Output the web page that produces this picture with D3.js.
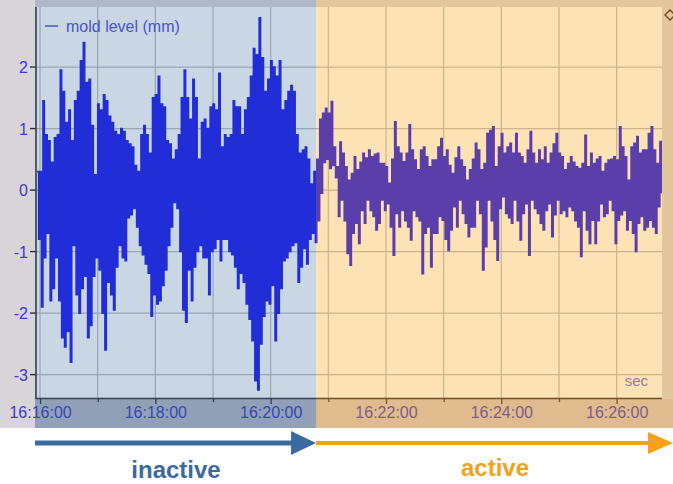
<!DOCTYPE html>
<html>
<head>
<meta charset="utf-8">
<script src="https://cdn.jsdelivr.net/npm/d3@7"></script>
<style>
  body { margin: 0; background: #fff; }
  svg text { font-family: "Liberation Sans", Arial, sans-serif; }
</style>
</head>
<body>
<div id="chart"></div>
<script>
// mold level (mm): one upper and one lower excursion every 3 s
const sampleStart = -3;   // seconds relative to 16:16:00
const sampleStep = 3;

const upper = [
  0.3, 0.3, 1.45, 0.9, 0.8, 0.45, 0.85, 0.9, 1.95, 1.6,
  1.1, 1.3, 0.8, 1.45, 1.6, 2.1, 2.4, 1.75, 1.8, 1.05,
  0.25, 1.4, 1.3, 1.55, 1.45, 1.2, 1.1, 0.95, 0.9, 1.0,
  0.95, 0.8, 0.75, 0.7, 0.4, 0.3, 0.9, 1.05, 0.9, 0.6,
  1.5, 1.55, 1.85, 1.4, 1.35, 0.8, 0.75, 0.5, 0.65, 0.9,
  1.5, 1.95, 1.5, 1.15, 1.8, 1.5, 0.5, 1.1, 1.15, 1.0,
  1.35, 1.4, 1.3, 1.9, 0.7, 0.9, 0.85, 0.9, 1.45, 1.35,
  1.35, 0.9, 1.3, 1.5, 1.85, 2.3, 2.2, 2.8, 2.15, 1.6,
  1.8, 2.1, 2.0, 1.85, 2.1, 1.3, 1.45, 1.6, 1.7, 1.6,
  0.9, 0.6, 0.65, 0.7, 0.5, 0.1, 0.3,
  0.5, 1.15, 1.25, 1.33, 1.25, 1.44, 0.7, 0.38, 0.78, 0.6,
  0.38, 0.16, 0.27, 0.54, 0.33, 0.45, 0.6, 0.52, 0.65, 0.54,
  0.58, 0.6, 0.43, 0.43, 0.38, 0.11, 0.5, 1.11, 0.7, 0.6,
  0.46, 0.6, 1.06, 0.65, 0.49, 0.33, 0.65, 0.7, 0.54, 0.38,
  0.49, 0.49, 0.7, 0.84, 0.54, 0.65, 0.4, 0.27, 0.52, 0.7,
  0.49, 0.38, 0.16, 0.33, 0.5, 0.76, 0.65, 0.33, 0.43, 0.92,
  0.97, 1.03, 0.38, 0.7, 0.92, 0.6, 0.7, 0.76, 0.6, 0.92,
  0.6, 0.54, 0.43, 0.65, 0.95, 0.6, 0.43, 0.65, 0.49, 0.7,
  0.43, 0.6, 0.75, 0.92, 0.6, 0.54, 0.33, 0.43, 0.54, 0.45,
  0.38, 0.35, 0.43, 0.89, 0.38, 0.6, 0.43, 0.5, 0.54, 0.3,
  0.43, 0.49, 0.5, 0.54, 0.49, 1.03, 0.7, 0.54, 0.16, 0.7,
  0.76, 0.87, 0.6, 0.65, 0.65, 0.92, 1.03, 0.65, 0.43, 0.79
];

const lower = [
  -0.8, -1.9, -1.1, -0.7, -1.8, -1.6, -1.1, -1.8, -2.4, -2.55,
  -2.3, -2.8, -0.9, -1.7, -2.0, -1.6, -1.4, -2.4, -2.2, -1.4,
  -1.1, -1.3, -2.0, -2.6, -1.5, -1.7, -1.95, -1.25, -0.9, -1.1,
  -1.15, -0.45, -0.4, -0.3, -0.6, -0.9, -1.05, -1.2, -1.35, -2.05,
  -1.7, -1.85, -1.8, -1.55, -1.3, -0.9, -0.6, -0.2, -0.3, -1.0,
  -1.95, -2.15, -1.3, -1.8, -1.25, -1.0, -0.9, -1.1, -1.1, -1.7,
  -1.0, -0.95, -0.8, -1.15, -0.8, -0.8, -1.0, -1.05, -1.25, -1.6,
  -1.35, -1.5, -1.85, -2.1, -2.45, -3.1, -3.25, -2.5, -2.05, -1.8,
  -1.85, -1.55, -2.45, -2.0, -1.6, -1.15, -1.1, -1.0, -0.9, -0.85,
  -1.5, -1.25, -0.95, -1.2, -0.8, -0.7, -0.85,
  -0.5, -0.05, 0.45, 0.5, 0.35, 0.4, 0.2, -0.43, -0.16, -0.5,
  -1.03, -1.22, -0.7, -0.54, -0.87, -0.33, -0.54, -0.16, -0.33, -0.43,
  -0.65, -0.54, -0.16, -0.33, -0.22, -0.6, -1.06, -0.38, -0.6, -0.33,
  -0.5, -0.6, -0.81, -0.33, -0.43, -0.5, -1.36, -0.7, -0.6, -1.25,
  -0.7, -0.7, -0.43, -0.49, -0.8, -0.98, -0.65, -0.27, -0.6, -0.16,
  -0.38, -0.54, -0.76, -0.6, -0.6, -0.16, -0.38, -1.3, -0.92, -0.16,
  -0.5, -0.8, -1.14, -0.3, -0.11, -0.38, -0.45, -0.54, -0.16, -0.5,
  -0.81, -0.38, -0.22, -1.06, -0.16, -0.3, -0.38, -0.54, -0.65, -0.33,
  -0.22, -0.76, -0.4, -0.16, -0.38, -0.33, -0.43, -0.27, -0.33, -0.5,
  -0.6, -1.08, -0.33, -0.65, -0.87, -0.49, -0.87, -0.5, -0.22, -0.43,
  -0.38, -0.16, -0.33, -0.87, -0.49, -0.4, -0.33, -0.65, -0.49, -0.7,
  -1.0, -0.54, -0.43, -0.65, -0.6, -0.49, -0.6, -0.7, -0.27, -0.05
];

const yTicks = [-3, -2, -1, 0, 1, 2];
const xTickLabels = ['16:16:00', '16:18:00', '16:20:00', '16:22:00', '16:24:00', '16:26:00'];
const seriesName = 'mold level (mm)';
const xUnit = 'sec';
// time window (s from 16:16:00) and the switch between the two phases
const viewStart = -4.2, viewEnd = 647.2, switchAt = 287.2;
const phases = ['inactive', 'active'];

const width = 673;
const height = 484;
const plot = { left: 36, right: 662, top: 7, bottom: 398 };

const base = new Date(2020, 0, 1, 16, 16, 0);
const sec = s => new Date(base.getTime() + s * 1000);
const fmt = d3.timeFormat('%H:%M:%S');

const x = d3.scaleTime()
    .domain([sec(viewStart), sec(viewEnd)])
    .range([plot.left, plot.right]);
const y = d3.scaleLinear()
    .domain([-3.38, 2.976])
    .range([plot.bottom, plot.top]);

// interleave the upper/lower excursions into one trace
const series = [];
upper.forEach((u, i) => {
    const t = sampleStart + i * sampleStep;
    series.push({ t: sec(t), v: u });
    series.push({ t: sec(t + sampleStep / 2), v: lower[i] });
});

const svg = d3.select('#chart')
    .append('svg')
    .attr('width', width)
    .attr('height', height);

svg.append('rect').attr('width', width).attr('height', height).style('fill', '#fff');

// chart frame + plot background
svg.append('rect')
    .attr('x', 0).attr('y', 0).attr('width', width).attr('height', 428)
    .style('fill', '#d8d4d9');
svg.append('rect')
    .attr('x', plot.left).attr('y', plot.top)
    .attr('width', plot.right - plot.left).attr('height', plot.bottom - plot.top)
    .style('fill', '#fdfdfd');

// grid
const minutes = d3.timeMinute.range(sec(0), sec(viewEnd));
svg.append('g').selectAll('line')
    .data(minutes).enter().append('line')
    .attr('x1', d => x(d)).attr('x2', d => x(d))
    .attr('y1', plot.top).attr('y2', plot.bottom)
    .style('stroke', '#b9b9bd').style('stroke-width', 1.2);
svg.append('g').selectAll('line')
    .data(yTicks).enter().append('line')
    .attr('x1', plot.left).attr('x2', plot.right)
    .attr('y1', d => y(d)).attr('y2', d => y(d))
    .style('stroke', '#b9b9bd').style('stroke-width', 1.2);

// trace
svg.append('clipPath').attr('id', 'clip')
    .append('rect')
    .attr('x', plot.left).attr('y', plot.top)
    .attr('width', plot.right - plot.left).attr('height', plot.bottom - plot.top);

const line = d3.line()
    .curve(d3.curveStepAfter)
    .x(d => x(d.t))
    .y(d => y(d.v));

svg.append('path')
    .datum(series)
    .attr('clip-path', 'url(#clip)')
    .attr('d', line)
    .style('fill', 'none')
    .style('stroke', '#1414ec')
    .style('stroke-width', 1.55);

// legend
svg.append('line')
    .attr('x1', 45).attr('x2', 58).attr('y1', 26).attr('y2', 26)
    .style('stroke', '#4a4ad8').style('stroke-width', 1.5);
svg.append('text')
    .attr('x', 66).attr('y', 32)
    .style('font-size', '16px').style('fill', '#4a4ad8')
    .text(seriesName);

svg.append('text')
    .attr('x', 648).attr('y', 386)
    .attr('text-anchor', 'end')
    .style('font-size', '15px').style('fill', '#7464d8')
    .text(xUnit);

// y axis
svg.append('line')
    .attr('x1', plot.left).attr('x2', plot.left)
    .attr('y1', plot.top).attr('y2', plot.bottom + 1)
    .style('stroke', '#2e2e34').style('stroke-width', 1.6);
const yg = svg.append('g');
yg.selectAll('line')
    .data(yTicks).enter().append('line')
    .attr('x1', plot.left - 6).attr('x2', plot.left)
    .attr('y1', d => y(d)).attr('y2', d => y(d))
    .style('stroke', '#2e2e34').style('stroke-width', 1.4);
yg.selectAll('text')
    .data(yTicks).enter().append('text')
    .attr('x', 28).attr('y', d => y(d) + 6)
    .attr('text-anchor', 'end')
    .style('font-size', '16px').style('fill', '#3a3ad4')
    .text(d => d);

// x axis
const xAxis = d3.axisBottom(x)
    .tickValues(minutes)
    .tickSize(5)
    .tickFormat(d => xTickLabels.includes(fmt(d)) ? fmt(d) : '');
const xg = svg.append('g')
    .attr('transform', `translate(0,${plot.bottom})`)
    .call(xAxis);
xg.select('.domain')
    .attr('d', `M${plot.left},0.5H${plot.right}`)
    .style('stroke', '#2e2e34').style('stroke-width', 1.6);
xg.selectAll('.tick line')
    .style('stroke', '#2e2e34').style('stroke-width', 1.3)
    .attr('y2', d => xTickLabels.includes(fmt(d)) ? 6 : 4);
xg.selectAll('.tick text')
    .attr('y', 9)
    .style('font-size', '16px')
    .style('font-family', '"Liberation Sans", Arial, sans-serif')
    .style('fill', '#3a3ad4');

// phase overlays
const xs = x(sec(switchAt));
svg.append('rect')
    .attr('x', plot.left - 1).attr('y', 0)
    .attr('width', xs - plot.left + 1).attr('height', 428)
    .style('fill', 'rgba(70,115,165,0.28)');
svg.append('rect')
    .attr('x', plot.left - 1).attr('y', plot.bottom + 1)
    .attr('width', xs - plot.left + 1).attr('height', 428 - plot.bottom - 1)
    .style('fill', 'rgba(30,60,110,0.2)');
svg.append('rect')
    .attr('x', xs).attr('y', 0)
    .attr('width', width - xs).attr('height', 428)
    .style('fill', 'rgba(255,165,20,0.3)');
svg.append('rect')
    .attr('x', xs).attr('y', plot.bottom + 1)
    .attr('width', width - xs).attr('height', 428 - plot.bottom - 1)
    .style('fill', 'rgba(190,110,30,0.12)');

// little diamond marker at top right
svg.append('path')
    .attr('d', 'M665,15L670,10L675,15L670,20Z')
    .style('fill', 'none').style('stroke', '#6b4a20').style('stroke-width', 1.3);

// phase arrows
const arrowY = 443;
svg.append('line')
    .attr('x1', plot.left - 1).attr('x2', xs - 22)
    .attr('y1', arrowY).attr('y2', arrowY)
    .style('stroke', '#3a6a9e').style('stroke-width', 5);
svg.append('path')
    .attr('d', `M${xs - 25},${arrowY - 12}L${xs},${arrowY}L${xs - 25},${arrowY + 12}Z`)
    .style('fill', '#3a6a9e');
svg.append('line')
    .attr('x1', xs).attr('x2', width - 22)
    .attr('y1', arrowY).attr('y2', arrowY)
    .style('stroke', '#f9a01b').style('stroke-width', 4);
svg.append('path')
    .attr('d', `M${width - 25},${arrowY - 11}L${width},${arrowY}L${width - 25},${arrowY + 11}Z`)
    .style('fill', '#f9a01b');

svg.append('text')
    .attr('x', (plot.left + xs) / 2).attr('y', 478)
    .attr('text-anchor', 'middle')
    .style('font-size', '24px').style('font-weight', 'bold').style('fill', '#3a6a9e')
    .text(phases[0]);
svg.append('text')
    .attr('x', 495).attr('y', 476)
    .attr('text-anchor', 'middle')
    .style('font-size', '24px').style('font-weight', 'bold').style('fill', '#f7a11a')
    .text(phases[1]);
</script>
</body>
</html>
